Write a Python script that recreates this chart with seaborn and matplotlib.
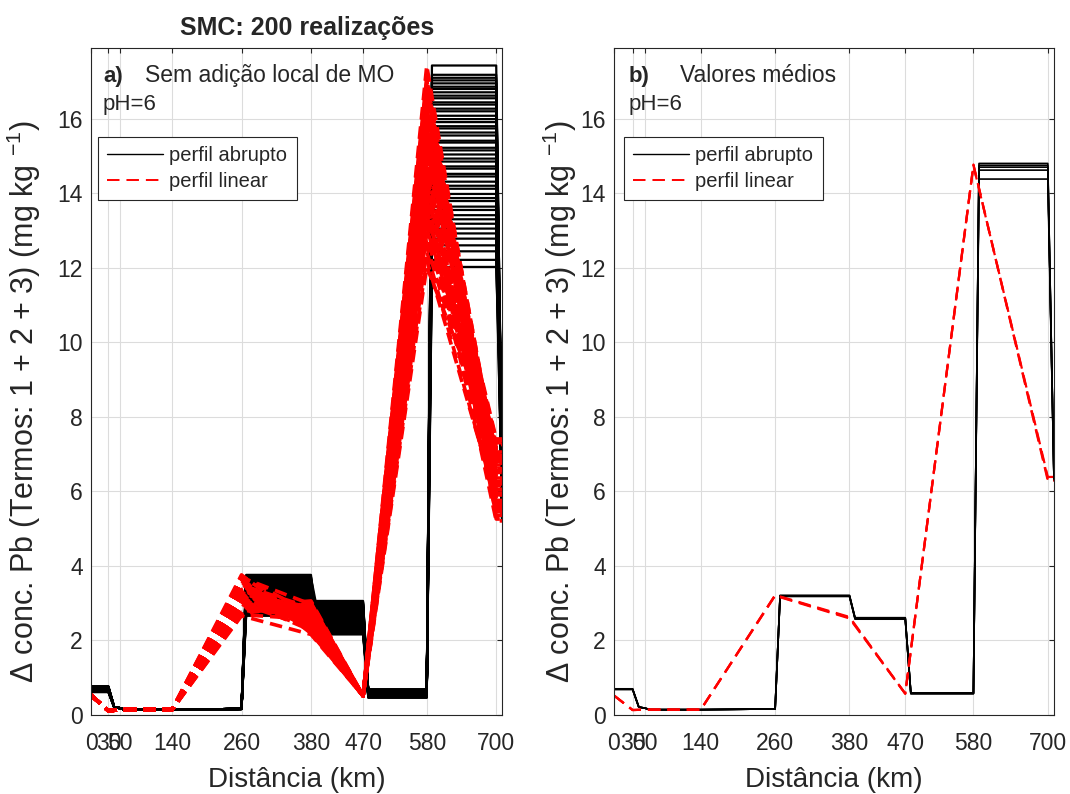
import matplotlib
matplotlib.use("Agg")
import matplotlib.pyplot as plt
import pandas as pd
import seaborn as sns
from matplotlib.lines import Line2D

# ---------------- data ----------------
XTICKS = [0, 30, 50, 140, 260, 380, 470, 580, 700]
YTICKS = [0, 2, 4, 6, 8, 10, 12, 14, 16]

# distance nodes (km) of the two profile types
ABRUPT_X = [0, 30, 40, 50, 58, 140, 260, 268, 380, 389, 470, 479, 580, 589, 700, 710]
LINEAR_X = [0, 30, 50, 140, 260, 380, 470, 580, 700, 710]

# low-concentration stretch (x = 40, 50, 58, 140, 260) of the abrupt profile
ABRUPT_LOW = [0.20, 0.17, 0.13, 0.13, 0.15]
# linear profile: value at 0 km, then at 30, 50, 140 km, and at 470 km
LINEAR_START = 0.52
LINEAR_LOW = [0.10, 0.13, 0.13]
LINEAR_470 = 0.50

# realizations (levels)
REAL_B0 = [0.68, 0.72, 0.64, 0.70, 0.62, 0.75, 0.66, 0.69, 0.73, 0.61,
           0.67, 0.71, 0.65, 0.74, 0.63, 0.70, 0.68, 0.76, 0.66, 0.72,
           0.64, 0.69, 0.60, 0.73, 0.67, 0.71, 0.65, 0.70, 0.62, 0.74,
           0.68, 0.66, 0.72, 0.63, 0.75, 0.69, 0.64, 0.71, 0.67, 0.73,
           0.61, 0.70, 0.65, 0.68, 0.74, 0.66, 0.72, 0.63, 0.69, 0.70]
REAL_L260 = [3.10, 3.55, 2.85, 3.30, 2.70, 3.65, 3.00, 3.40, 2.95, 3.75,
             3.20, 2.78, 3.50, 3.05, 3.35, 2.90, 3.60, 3.15, 2.65, 3.45,
             3.25, 2.98, 3.70, 3.08, 2.82, 3.38, 3.18, 3.52, 2.88, 3.28,
             3.62, 2.75, 3.12, 3.42, 3.02, 3.22, 2.92, 3.58, 3.32, 2.68,
             3.48, 3.14, 2.80, 3.36, 3.68, 3.06, 3.26, 2.96, 3.44, 3.16]
REAL_L380 = [2.60, 2.30, 2.90, 2.45, 3.00, 2.20, 2.75, 2.55, 2.85, 2.35,
             2.65, 2.95, 2.25, 2.70, 2.50, 3.05, 2.40, 2.80, 2.15, 2.62,
             2.88, 2.32, 2.72, 2.52, 2.98, 2.42, 2.68, 2.28, 2.82, 2.58,
             2.18, 2.92, 2.48, 2.78, 2.38, 2.64, 3.02, 2.22, 2.74, 2.56,
             2.86, 2.34, 2.66, 2.46, 2.96, 2.26, 2.76, 2.54, 2.84, 2.44]
REAL_L470 = [0.55, 0.62, 0.48, 0.66, 0.52, 0.58, 0.46, 0.64, 0.50, 0.60,
             0.57, 0.47, 0.67, 0.53, 0.61, 0.49, 0.63, 0.56, 0.45, 0.59,
             0.54, 0.65, 0.51, 0.60, 0.48, 0.62, 0.57, 0.68, 0.50, 0.55,
             0.64, 0.47, 0.58, 0.52, 0.66, 0.46, 0.61, 0.53, 0.59, 0.49,
             0.63, 0.56, 0.51, 0.65, 0.54, 0.48, 0.60, 0.57, 0.50, 0.62]
REAL_L580 = [15.41, 13.05, 16.86, 14.20, 17.10, 12.60, 15.80, 14.66, 16.27, 13.55,
             15.04, 16.62, 12.21, 14.93, 17.43, 13.87, 15.63, 16.08, 14.31, 12.92,
             16.44, 15.22, 13.30, 17.03, 14.52, 15.99, 12.78, 16.71, 13.64, 15.15,
             14.85, 16.20, 12.02, 15.55, 13.98, 16.95, 14.45, 13.18, 15.74, 16.38,
             12.44, 14.12, 17.18, 13.41, 15.91, 14.72, 16.55, 13.79, 15.36, 16.80]
REAL_L700 = [6.10, 7.20, 5.60, 6.80, 5.30, 6.40, 7.00, 5.90, 6.60, 5.45,
             7.35, 6.20, 5.75, 6.95, 6.35, 5.20, 6.70, 7.10, 5.85, 6.50,
             6.05, 7.40, 5.50, 6.85, 6.25, 5.65, 7.05, 6.45, 5.95, 6.75,
             5.35, 6.15, 7.25, 5.80, 6.55, 6.90, 5.55, 6.30, 7.15, 6.00,
             5.70, 6.65, 5.25, 7.30, 6.40, 5.90, 6.80, 6.20, 5.40, 6.60]

# mean profiles (panel b)
MEAN_B0 = [0.68, 0.68, 0.67, 0.68, 0.69]
MEAN_L260 = [3.18, 3.17, 3.19, 3.18, 3.20]
MEAN_L380 = [2.58, 2.56, 2.60, 2.57, 2.59]
MEAN_L470 = [0.57, 0.56, 0.58, 0.57, 0.56]
MEAN_L580 = [14.80, 14.75, 14.70, 14.62, 14.38]
MEAN_L700 = [6.30, 6.32, 6.28, 6.30, 6.31]
MEAN_LIN_START = 0.51
MEAN_LIN_LOW = [0.12, 0.13, 0.13]
MEAN_LIN_L260 = [3.20, 3.19, 3.21]
MEAN_LIN_L380 = [2.60, 2.58, 2.62]
MEAN_LIN_470 = 0.56
MEAN_LIN_L580 = [14.77, 14.74, 14.76]
MEAN_LIN_L700 = [6.33, 6.38, 6.28]

LABEL_ABRUPT = "perfil abrupto"
LABEL_LINEAR = "perfil linear"


def abrupt_profile(b0, l260, l380, l470, l580, l700):
    return [b0, b0] + ABRUPT_LOW + [l260, l260, l380, l380, l470, l470, l580, l580, l700]


def linear_profile(start, low, v470, l260, l380, l580, l700):
    return [start] + low + [l260, l380, v470, l580, l700, l700]


def frame(xs, profiles):
    rows = []
    for run, ys in enumerate(profiles):
        for x, y in zip(xs, ys):
            rows.append({"x": x, "y": y, "run": run})
    return pd.DataFrame(rows)


real_abrupt = frame(ABRUPT_X, [abrupt_profile(*v) for v in zip(
    REAL_B0, REAL_L260, REAL_L380, REAL_L470, REAL_L580, REAL_L700)])
real_linear = frame(LINEAR_X, [linear_profile(LINEAR_START, LINEAR_LOW, LINEAR_470, a, b, c, d)
                               for a, b, c, d in zip(REAL_L260, REAL_L380, REAL_L580, REAL_L700)])
mean_abrupt = frame(ABRUPT_X, [abrupt_profile(*v) for v in zip(
    MEAN_B0, MEAN_L260, MEAN_L380, MEAN_L470, MEAN_L580, MEAN_L700)])
mean_linear = frame(LINEAR_X, [linear_profile(MEAN_LIN_START, MEAN_LIN_LOW, MEAN_LIN_470, a, b, c, d)
                               for a, b, c, d in zip(MEAN_LIN_L260, MEAN_LIN_L380,
                                                     MEAN_LIN_L580, MEAN_LIN_L700)])

# ---------------- style ----------------
sns.set_style("white")
plt.rcParams["font.family"] = ["Liberation Sans", "DejaVu Sans"]
plt.rcParams["mathtext.fontset"] = "custom"
plt.rcParams["mathtext.rm"] = "Liberation Sans"
plt.rcParams["mathtext.it"] = "Liberation Sans:italic"
plt.rcParams["mathtext.bf"] = "Liberation Sans:bold"
plt.rcParams["lines.scale_dashes"] = False

AX_GRAY = "#262626"
DASH = (0, (9, 5))

fig = plt.figure(figsize=(10.7, 7.94), dpi=100)
ax1 = fig.add_axes([91 / 1070, 79.5 / 794, 411 / 1070, 666.5 / 794])
ax2 = fig.add_axes([614 / 1070, 79.5 / 794, 440 / 1070, 666.5 / 794])


def draw(ax, dfa, dfl, lw_a, lw_l):
    sns.lineplot(data=dfa, x="x", y="y", units="run", estimator=None, sort=False,
                 color="black", linewidth=lw_a, legend=False, ax=ax)
    sns.lineplot(data=dfl, x="x", y="y", units="run", estimator=None, sort=False,
                 color="red", linewidth=lw_l, linestyle=DASH, legend=False, ax=ax)


draw(ax1, real_abrupt, real_linear, 1.6, 2.6)
draw(ax2, mean_abrupt, mean_linear, 1.2, 1.6)

for ax, ylab_x, leg_x in ((ax1, -0.117, 0.017), (ax2, -0.08, 0.0227)):
    ax.set_xlim(0, 710)
    ax.set_ylim(0, 17.9)
    ax.set_xticks(XTICKS)
    ax.set_yticks(YTICKS)
    ax.grid(True, color="#dcdcdc", linewidth=0.8)
    ax.set_axisbelow(True)
    for sp in ax.spines.values():
        sp.set_color(AX_GRAY)
        sp.set_linewidth(0.8)
        sp.set_visible(True)
    ax.tick_params(direction="in", top=True, right=True, length=3.6, width=0.8,
                   color=AX_GRAY, labelcolor=AX_GRAY, labelsize=16.5)
    ax.tick_params(axis="x", pad=12.5)
    ax.tick_params(axis="y", pad=6)
    ax.set_xlabel("Distância (km)", fontsize=20, color=AX_GRAY, labelpad=9)
    ax.set_ylabel(r"Δ conc. Pb (Termos: 1 + 2 + 3) (mg kg $^{-1}$)", fontsize=22,
                  color=AX_GRAY)
    ax.yaxis.set_label_coords(ylab_x, 0.47)
    handles = [Line2D([], [], color="black", linewidth=1.0),
               Line2D([], [], color="red", linewidth=1.4, linestyle=DASH)]
    leg = ax.legend(handles, [LABEL_ABRUPT, LABEL_LINEAR], loc="upper left",
                    bbox_to_anchor=(leg_x, 0.867), borderaxespad=0, fontsize=14.5,
                    frameon=True, fancybox=False, framealpha=1, edgecolor=AX_GRAY,
                    handlelength=2.8, handletextpad=0.3, borderpad=0.45,
                    labelspacing=0.35)
    leg.get_frame().set_linewidth(0.8)
    ax.text(0.029 if ax is ax1 else 0.032, 0.907, "pH=6", transform=ax.transAxes,
            fontsize=16, va="baseline", ha="left")

ax1.text(0.029, 0.949, "a)", transform=ax1.transAxes, fontsize=16, fontweight="bold",
         va="baseline", ha="left")
ax1.text(0.131, 0.949, "Sem adição local de MO", transform=ax1.transAxes, fontsize=16.5,
         va="baseline", ha="left")
ax2.text(0.032, 0.949, "b)", transform=ax2.transAxes, fontsize=16, fontweight="bold",
         va="baseline", ha="left")
ax2.text(0.15, 0.949, "Valores médios", transform=ax2.transAxes, fontsize=16.5,
         va="baseline", ha="left")

ax1.set_title("SMC: 200 realizações", fontsize=18, fontweight="bold", x=0.527, pad=9)

fig.savefig("out.png", dpi=100)
